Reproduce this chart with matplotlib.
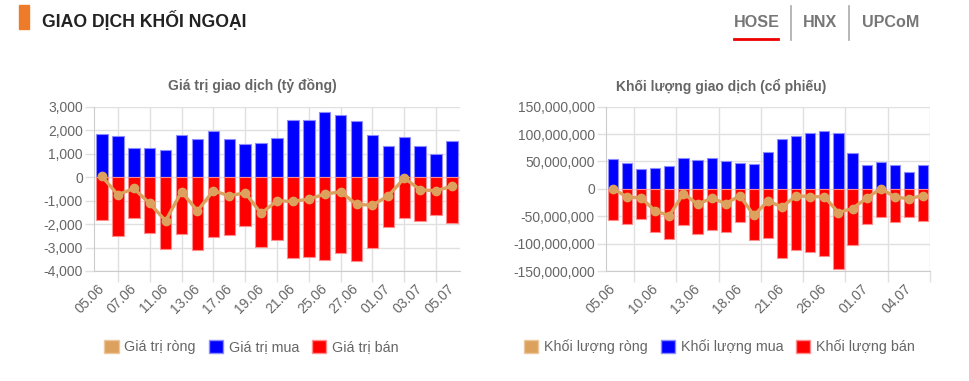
import numpy as np
import matplotlib.pyplot as plt
from matplotlib.patches import Patch, Rectangle
from matplotlib.lines import Line2D
from matplotlib.ticker import FuncFormatter
from matplotlib.transforms import ScaledTranslation

plt.rcParams['font.family'] = ['Liberation Sans', 'DejaVu Sans']

# trading days
dates = ['05.06', '06.06', '07.06', '10.06', '11.06', '12.06', '13.06', '14.06',
         '17.06', '18.06', '19.06', '20.06', '21.06', '24.06', '25.06', '26.06',
         '27.06', '28.06', '01.07', '02.07', '03.07', '04.07', '05.07']

# Giá trị (tỷ đồng)
buy_val = [1847, 1747, 1236, 1250, 1165, 1804, 1633, 1960, 1633, 1420, 1435, 1648,
           2415, 2443, 2784, 2628, 2386, 1804, 1307, 1690, 1321, 994, 1548]
sell_val = [-1832, -2528, -1747, -2400, -3054, -2429, -3097, -2571, -2472, -2102,
            -2997, -2685, -3452, -3409, -3523, -3253, -3580, -3011, -2131, -1747,
            -1889, -1605, -1974]
net_val = [28, -753, -483, -1122, -1860, -625, -1435, -582, -795, -668, -1548,
           -1008, -1037, -938, -724, -625, -1165, -1193, -795, -43, -540, -582, -384]

# Khối lượng (triệu cổ phiếu)
buy_vol = [55.4, 46.8, 37.1, 37.7, 42.6, 56.0, 52.9, 56.6, 51.1, 46.8, 45.0, 66.9,
           91.8, 97.3, 102.2, 105.8, 101.6, 66.3, 44.4, 48.7, 44.4, 31.0, 44.4]
sell_vol = [-57.2, -63.9, -55.4, -79.7, -91.8, -65.1, -82.7, -74.8, -79.7, -60.2,
            -94.3, -90.6, -127.1, -112.5, -116.2, -121.7, -146.0, -103.4, -63.9,
            -51.1, -60.2, -50.5, -57.8]
net_vol = [0.5, -15.2, -16.4, -40.8, -48.7, -8.5, -28.0, -17.0, -26.8, -12.8, -48.1,
           -22.5, -32.8, -12.8, -14.0, -14.6, -43.2, -35.9, -17.0, 0.5, -14.6, -18.2,
           -12.2]

tabs = ['HOSE', 'HNX', 'UPCoM']

BLUE = '#0000ff'
RED = '#ff0000'
NET = '#dda15e'
GRID = '#e0e0e0'
TXT = '#666666'

W, H = 970, 381
fig = plt.figure(figsize=(W / 100, H / 100), dpi=100)


def add_axes(x0, x1, y0, y1):
    return fig.add_axes([x0 / W, 1 - y1 / H, (x1 - x0) / W, (y1 - y0) / H])


def draw_panel(ax, buy, sell, net, ylim, ystep, step):
    x = np.arange(len(dates))
    ax.bar(x, buy, width=0.72, color=BLUE, edgecolor='#8c8cff', linewidth=0.8, zorder=2)
    ax.bar(x, sell, width=0.72, color=RED, edgecolor='#ff8c8c', linewidth=0.8, zorder=2)
    ax.plot(x, net, color=NET, lw=2.4, marker='o', ms=6, zorder=3)

    ax.set_xlim(-0.5, len(dates) - 0.5)
    ax.set_ylim(ylim)
    ax.set_yticks(np.arange(ylim[0], ylim[1] + ystep / 2, ystep))
    ax.yaxis.set_major_formatter(FuncFormatter(lambda v, p: f'{v:,.0f}'))

    major = x[::step]
    ax.set_xticks(major, [dates[i] for i in major], rotation=45, ha='right',
                  va='center', rotation_mode='anchor')
    minor = list((major[:-1] + major[1:]) / 2)
    if major[-1] + step / 2 <= len(dates) - 0.5:
        minor.append(major[-1] + step / 2)
    ax.set_xticks(minor, minor=True)
    for lbl in ax.get_xticklabels():
        lbl.set_transform(lbl.get_transform() + ScaledTranslation(8 / 100, 0, fig.dpi_scale_trans))

    ax.tick_params(axis='x', which='major', length=0, pad=11, labelsize=10, labelcolor=TXT)
    ax.tick_params(axis='x', which='minor', length=8, color=GRID, width=1)
    ax.tick_params(axis='y', length=6.5, color=GRID, width=1, pad=1.5, labelsize=10,
                   labelcolor=TXT)
    ax.grid(axis='x', which='minor', color=GRID, lw=1)
    ax.grid(axis='y', which='major', color=GRID, lw=1)
    ax.set_axisbelow(True)
    for s in ['top', 'right']:
        ax.spines[s].set_visible(False)
    for s in ['left', 'bottom']:
        ax.spines[s].set_color('#cccccc')


ax1 = add_axes(94, 460, 106.7, 271)
draw_panel(ax1, buy_val, sell_val, net_val, (-4000, 3000), 1000, 2)

ax2 = add_axes(606, 930, 106.7, 271)
draw_panel(ax2, np.array(buy_vol) * 1e6, np.array(sell_vol) * 1e6,
           np.array(net_vol) * 1e6, (-150e6, 150e6), 50e6, 3)

fig.text(252.5 / W, 1 - 86 / H, 'Giá trị giao dịch (tỷ đồng)', ha='center', va='center',
         fontsize=10, fontweight='bold', color=TXT)
fig.text(721 / W, 1 - 86 / H, 'Khối lượng giao dịch (cổ phiếu)', ha='center', va='center',
         fontsize=10, fontweight='bold', color=TXT)


def legend(cx, names):
    handles = [Patch(facecolor=NET, edgecolor='#ecc79c'),
               Patch(facecolor=BLUE, edgecolor='#8c8cff'),
               Patch(facecolor=RED, edgecolor='#ff8c8c')]
    fig.legend(handles, names, loc='center', bbox_to_anchor=(cx / W, 1 - 347 / H),
               ncol=3, frameon=False, fontsize=10.3, labelcolor=TXT, handlelength=1.0,
               handleheight=1.0, handletextpad=0.4, columnspacing=0.9, borderpad=0)


legend(251.5, ['Giá trị ròng', 'Giá trị mua', 'Giá trị bán'])
legend(719.5, ['Khối lượng ròng', 'Khối lượng mua', 'Khối lượng bán'])

# header
fig.patches.append(Rectangle((19 / W, 1 - 29 / H), 10 / W, 24 / H, color='#ee7b2a',
                             transform=fig.transFigure, figure=fig))
fig.text(42 / W, 1 - 27 / H, 'GIAO DỊCH KHỐI NGOẠI', ha='left', va='baseline',
         fontsize=12.7, fontweight='bold', color='#222222')
for name, x0 in zip(tabs, [734, 803, 862]):
    fig.text(x0 / W, 1 - 27 / H, name, ha='left', va='baseline', fontsize=11.6,
             fontweight='bold', color='#777777')
for xs in [791, 849]:
    fig.add_artist(Line2D([xs / W, xs / W], [1 - 6 / H, 1 - 40 / H], color='#aaaaaa',
                          lw=1.2, transform=fig.transFigure))
fig.add_artist(Line2D([734 / W, 778 / W], [1 - 39 / H, 1 - 39 / H], color='#ee0000',
                      lw=2, transform=fig.transFigure))

fig.savefig('out.png', dpi=100)
